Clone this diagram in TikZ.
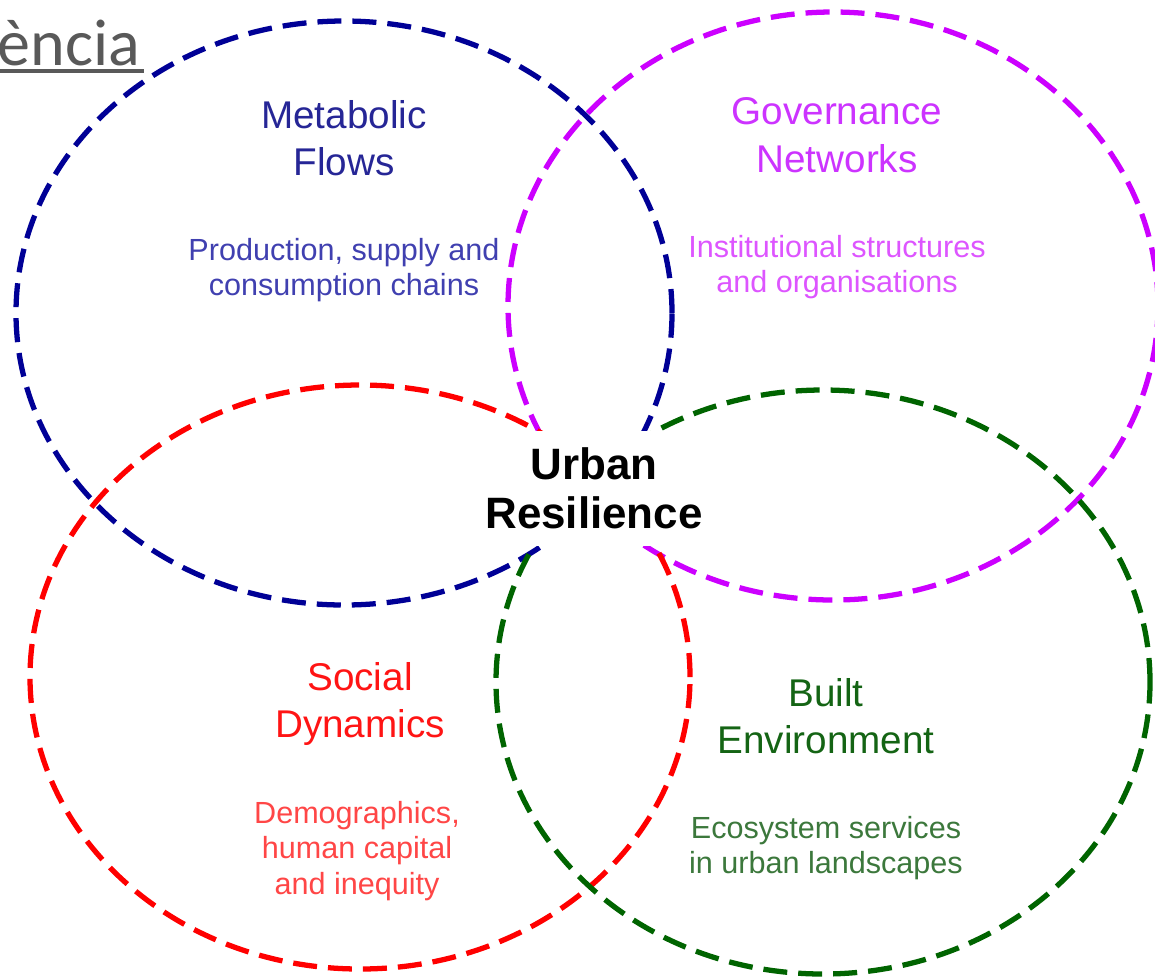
\documentclass[tikz,border=0pt]{standalone}
\usepackage{fontspec}
\setmainfont{Liberation Sans}
\newfontfamily\linkfont{Carlito}

\definecolor{linkgray}{RGB}{89,89,89}
\definecolor{metaline}{RGB}{0,0,150}
\definecolor{metatext}{RGB}{38,38,150}
\definecolor{metasub}{RGB}{64,64,176}
\definecolor{govline}{RGB}{204,0,255}
\definecolor{govtext}{RGB}{204,51,255}
\definecolor{govsub}{RGB}{221,85,255}
\definecolor{socline}{RGB}{255,0,0}
\definecolor{soctext}{RGB}{255,20,20}
\definecolor{socsub}{RGB}{255,70,70}
\definecolor{bltline}{RGB}{0,100,0}
\definecolor{blttext}{RGB}{20,100,20}
\definecolor{bltsub}{RGB}{60,120,60}

\tikzset{
  ring/.style={line width=1.5pt, dash pattern=on 0.24cm off 0.11cm},
  title/.style={align=center, font=\fontsize{11}{13.5}\selectfont},
  detail/.style={align=center, font=\fontsize{8.7}{10}\selectfont},
}

\begin{document}
\begin{tikzpicture}
    \useasboundingbox (0,0) rectangle (11.55,-9.78);
    % the four rings
    \draw[ring, metaline] (3.44,-3.13) ellipse (3.28 and 2.92);
    \draw[ring, govline] (8.33,-3.06) ellipse (3.25 and 2.94);
    \draw[ring, socline] (3.60,-6.77) ellipse (3.30 and 2.92);
    \draw[ring, bltline] (8.23,-6.82) ellipse (3.27 and 2.92);
    % link text, cut at the left
    \node[anchor=base west, inner sep=0pt, text=linkgray, font=\linkfont\fontsize{18.8}{20}\selectfont] (Link) at (-0.03,-0.65) {ència};
    \draw[linkgray, line width=1.3pt] ([yshift=-0.06cm]Link.base west) -- ([yshift=-0.06cm, xshift=0.03cm]Link.base east);
    % titles and details
    \node[title, text=metatext] (Flows) at (3.44,-1.38) {Metabolic\\Flows};
    \node[detail, text=metasub] (Flows Detail) at (3.44,-2.70) {Production, supply and\\consumption chains};
    \node[title, text=govtext] (Networks) at (8.37,-1.35) {Governance\\Networks};
    \node[detail, text=govsub] (Networks Detail) at (8.37,-2.675) {Institutional structures\\and organisations};
    \node[title, text=soctext] (Dynamics) at (3.60,-7.04) {Social\\Dynamics};
    \node[detail, text=socsub] (Dynamics Detail) at (3.57,-8.51) {Demographics,\\human capital\\and inequity};
    \node[title, text=blttext] (Environment) at (8.26,-7.16) {Built\\Environment};
    \node[detail, text=bltsub] (Environment Detail) at (8.26,-8.48) {Ecosystem services\\in urban landscapes};
    % centre
    \node[fill=white, minimum width=2.25cm, minimum height=1.15cm, align=center, font=\bfseries\fontsize{12.5}{14}\selectfont] (Resilience) at (5.94,-4.88) {Urban\\Resilience};
\end{tikzpicture}
\end{document}
